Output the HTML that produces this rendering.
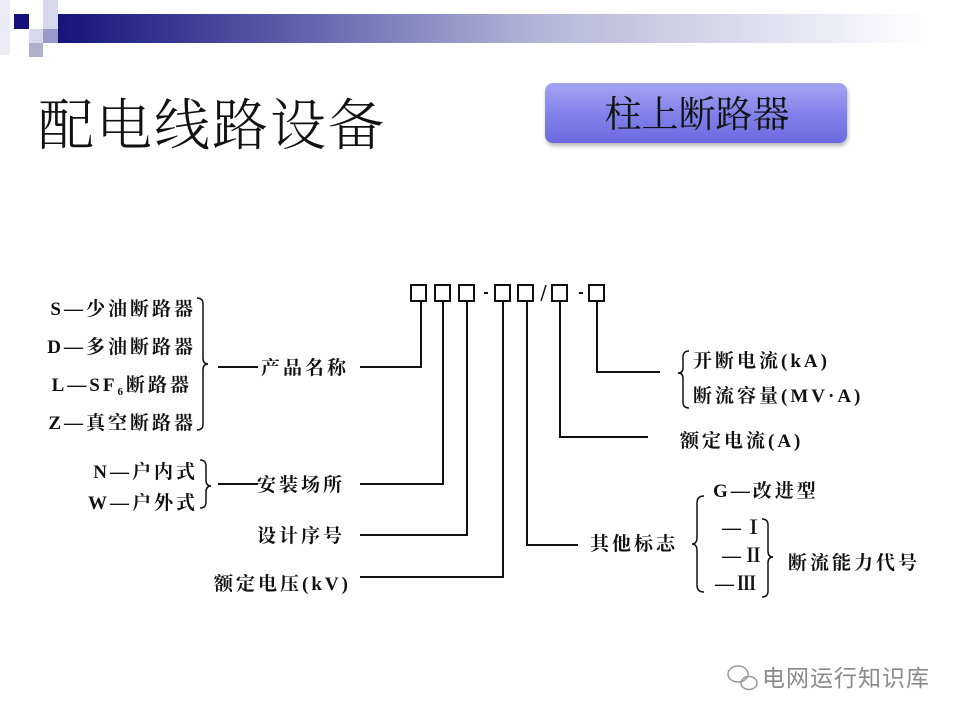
<!DOCTYPE html>
<html><head><meta charset="utf-8"><style>
html,body{margin:0;padding:0;background:#fff;}
body{width:960px;height:720px;position:relative;overflow:hidden;}
.t{font-family:"Liberation Serif","Noto Serif CJK SC",serif;font-weight:bold;font-size:19px;fill:#111;letter-spacing:3px;}
</style></head><body>
<svg width="960" height="720" viewBox="0 0 960 720" xmlns="http://www.w3.org/2000/svg" style="position:absolute;left:0;top:0">
<defs>
<linearGradient id="band" x1="0" x2="1" y1="0" y2="0">
<stop offset="0" stop-color="#14147a"/><stop offset="0.25" stop-color="#5858a8"/><stop offset="0.55" stop-color="#b4b4d8"/><stop offset="1" stop-color="#ffffff"/>
</linearGradient>
<linearGradient id="btn" x1="0" x2="0" y1="0" y2="1">
<stop offset="0" stop-color="#a4a4f4"/><stop offset="0.5" stop-color="#8282ea"/><stop offset="1" stop-color="#6a6ae0"/>
</linearGradient>
<filter id="sh" x="-10%" y="-20%" width="120%" height="150%"><feDropShadow dx="1" dy="3" stdDeviation="2" flood-color="#888" flood-opacity="0.6"/></filter>
</defs>
<rect x="0" y="0" width="10" height="55" fill="#ececf6"/>
<rect x="58" y="14" width="870" height="29" fill="url(#band)"/>
<rect x="14" y="14" width="15" height="15" fill="#12127a"/>
<rect x="43" y="0" width="15" height="29" fill="#d8d8ec"/>
<rect x="29" y="29" width="14" height="14" fill="#d8d8ec"/>
<rect x="43" y="29" width="15" height="14" fill="#9a9ac8"/>
<rect x="29" y="43" width="14" height="14" fill="#b0b0cc"/>
<text x="38" y="145" font-family="'Noto Serif CJK SC','Liberation Serif',serif" font-size="56" font-weight="300" fill="#111" letter-spacing="2">配电线路设备</text>
<rect x="545" y="83" width="302" height="60" rx="8" fill="url(#btn)" filter="url(#sh)"/>
<text x="697" y="127" text-anchor="middle" font-family="'Noto Serif CJK SC',serif" font-size="37" fill="#111">柱上断路器</text>
<g fill="none" stroke="#111" stroke-width="2">
<rect x="411" y="285" width="15" height="16"/><rect x="435" y="285" width="15" height="16"/><rect x="459" y="285" width="15" height="16"/>
<rect x="495" y="285" width="15" height="16"/><rect x="518" y="285" width="15" height="16"/>
<rect x="552" y="285" width="15" height="16"/><rect x="589" y="285" width="15" height="16"/>
<line x1="484" y1="293" x2="488" y2="293"/><line x1="579" y1="293" x2="583" y2="293"/>
<line x1="546" y1="285" x2="541" y2="301" stroke-width="1.5"/>
<polyline points="421,301 421,367 360,367"/>
<polyline points="443,301 443,484 360,484"/>
<polyline points="467,301 467,535 360,535"/>
<polyline points="503,301 503,577 360,577"/>
<polyline points="527,301 527,545 578,545"/>
<polyline points="560,301 560,437 648,437"/>
<polyline points="597,301 597,372 660,372"/>
<line x1="218" y1="367" x2="258" y2="367"/>
<line x1="218" y1="484" x2="258" y2="484"/>
</g>
<g fill="none" stroke="#111" stroke-width="1.5">
<path d="M197,298 q6,0 6,6 v54 q0,6 5,6 q-5,0 -5,6 v54 q0,6 -6,6"/>
<path d="M200,460 q6,0 6,6 v14 q0,6 5,6 q-5,0 -5,6 v10 q0,6 -6,6"/>
<path d="M689,351 q-6,0 -6,6 v11 q0,5 -5,5 q5,0 5,5 v24 q0,6 6,6"/>
<path d="M704,496 q-7,0 -7,7 v34 q0,7 -5,7 q5,0 5,7 v34 q0,7 7,7"/>
<path d="M762,519 q6,0 6,6 v26 q0,6 5,6 q-5,0 -5,6 v28 q0,6 -6,6"/>
</g>
<g class="t">
<text x="196" y="315" text-anchor="end">S—少油断路器</text>
<text x="196" y="353" text-anchor="end">D—多油断路器</text>
<text x="192" y="391" text-anchor="end">L—SF<tspan font-size="11" dy="4">6</tspan><tspan dy="-4">断路器</tspan></text>
<text x="196" y="429" text-anchor="end">Z—真空断路器</text>
<text x="198" y="478" text-anchor="end">N—户内式</text>
<text x="198" y="509" text-anchor="end">W—户外式</text>
<text x="261" y="374">产品名称</text>
<text x="257" y="491">安装场所</text>
<text x="257" y="542">设计序号</text>
<text x="214" y="590">额定电压(kV)</text>
<text x="590" y="550">其他标志</text>
<text x="680" y="447">额定电流(A)</text>
<text x="693" y="367">开断电流(kA)</text>
<text x="693" y="402">断流容量(MV·A)</text>
<text x="713" y="497">G—改进型</text>
<text x="722" y="534">—Ⅰ</text>
<text x="722" y="562">—Ⅱ</text>
<text x="715" y="590">—Ⅲ</text>
<text x="788" y="569">断流能力代号</text>
</g>
<g fill="none" stroke="#999" stroke-width="1.5">
<ellipse cx="738" cy="674" rx="10" ry="8"/>
<ellipse cx="749" cy="683" rx="8" ry="6.5"/>
</g>
<text x="762" y="686" font-family="'Noto Sans CJK SC',sans-serif" font-size="23" fill="#8a8a8a" letter-spacing="1">电网运行知识库</text>
</svg>
</body></html>
